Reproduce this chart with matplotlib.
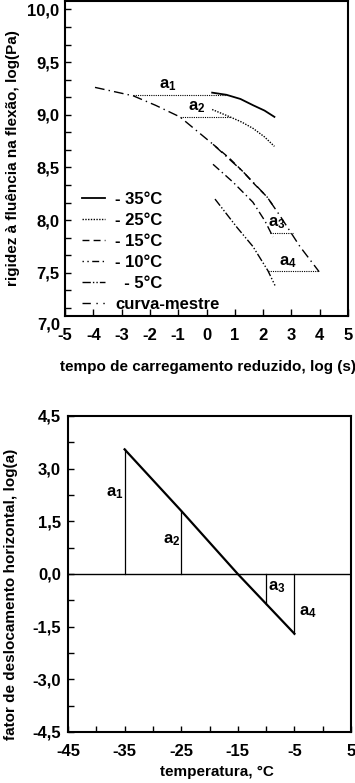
import matplotlib
matplotlib.use("Agg")
import matplotlib.pyplot as plt
from matplotlib.ticker import MultipleLocator, FixedLocator
from matplotlib.lines import Line2D

plt.rcParams["font.family"] = ["Liberation Sans", "DejaVu Sans"]
plt.rcParams["font.weight"] = "bold"
plt.rcParams["axes.labelweight"] = "bold"
plt.rcParams["mathtext.default"] = "regular"

# ---- dados: curvas de rigidez (grafico de cima)
x_35 = [0.2, 0.7, 1.2, 1.65, 2.05, 2.4]
y_35 = [9.21, 9.19, 9.15, 9.09, 9.04, 8.98]
x_25 = [0.2, 0.83, 1.25, 1.65, 2.05, 2.4]
y_25 = [9.05, 8.98, 8.93, 8.87, 8.79, 8.70]
x_15 = [0.23, 0.8, 1.29, 1.7, 2.14, 2.4]
y_15 = [8.72, 8.59, 8.46, 8.34, 8.22, 8.12]
x_10 = [0.23, 0.94, 1.64, 2.07, 2.35]
y_10 = [8.53, 8.36, 8.17, 7.99, 7.84]
x_5 = [0.30, 1.08, 1.64, 2.17, 2.42]
y_5 = [8.20, 7.93, 7.75, 7.52, 7.38]
x_mestre = [-3.94, -2.59, -1.8, -0.94, 0.23, 1.29, 2.14, 2.60, 3.30, 3.98]
y_mestre = [9.26, 9.18, 9.09, 8.98, 8.72, 8.46, 8.22, 8.04, 7.75, 7.51]

# deslocamentos horizontais (a1..a4): nivel y, x inicio, x fim
shift_y = [9.19, 8.98, 7.88, 7.52]
shift_x0 = [-2.59, -0.94, 2.24, 2.18]
shift_x1 = [0.71, 0.83, 3.06, 3.99]
shift_lbl = ["a$_1$", "a$_2$", "a$_3$", "a$_4$"]
shift_lbl_x = [-1.36, -0.34, 2.49, 2.88]
shift_lbl_y = [9.28, 9.07, 7.97, 7.60]

legend_lbl = ["- 35°C", "- 25°C", "- 15°C", "- 10°C", "  - 5°C", "curva-mestre"]

x_ticks_top = [-5, -4, -3, -2, -1, 0, 1, 2, 3, 4, 5]
x_ticklbl_top = ["-5", "-4", "-3", "-2", "-1", "0", "1", "2", "3", "4", "5"]
y_ticks_top = [7.5, 8.0, 8.5, 9.0, 9.5, 10.0]
y_ticklbl_top = ["7,5", "8,0", "8,5", "9,0", "9,5", "10,0"]

# ---- dados: fator de deslocamento (grafico de baixo)
temps = [-35, -25, -15, -10, -5]
log_a = [3.55, 1.8, 0.0, -0.85, -1.7]
a_lbl_x = [-36.7, -26.6, -8.1, -2.6]
a_lbl_y = [2.3, 0.97, -0.37, -1.08]
a_temps = [-35, -25, -10, -5]
a_vals = [3.55, 1.8, -0.85, -1.7]

x_ticks_bot = [-45, -35, -25, -15, -5, 5]
x_ticklbl_bot = ["-45", "-35", "-25", "-15", "-5", "5"]
y_ticks_bot = [-4.5, -3.0, -1.5, 0.0, 1.5, 3.0, 4.5]
y_ticklbl_bot = ["-4,5", "-3,0", "-1,5", "0,0", "1,5", "3,0", "4,5"]

fs = 12
fs_lab = 11
spine_lw = 1.5

fig = plt.figure(figsize=(3.55, 7.83), dpi=100)
ax1 = fig.add_axes([65 / 355, 1 - 316 / 783, 283 / 355, 315 / 783])
ax2 = fig.add_axes([68 / 355, 1 - 732 / 783, 283 / 355, 316 / 783])

for ax in (ax1, ax2):
    for s in ax.spines.values():
        s.set_linewidth(spine_lw)
    ax.tick_params(which="both", direction="in", width=1.0, labelsize=fs)

# ---- grafico de cima
ls_10 = (0, (1, 2.5, 1, 2.5, 5, 2.5))
ls_5 = (0, (6, 1.5, 1, 1.5, 1, 1.5))
ls_m = (0, (7, 3, 1, 3))
ax1.plot(x_35, y_35, color="black", lw=1.3, ls="-")
ax1.plot(x_25, y_25, color="black", lw=1.0, ls=(0, (1, 1)))
ax1.plot(x_mestre, y_mestre, color="black", lw=1.0, ls=ls_m)
ax1.plot(x_15, y_15, color="black", lw=1.0, ls=(0, (5, 3)))
ax1.plot(x_10, y_10, color="black", lw=1.0, ls=(0, (6, 2.5, 1, 2.5)))
ax1.plot(x_5, y_5, color="black", lw=1.0, ls=ls_5)

for yy, xa, xb in zip(shift_y, shift_x0, shift_x1):
    ax1.plot([xa, xb], [yy, yy], color="black", lw=0.8, ls=(0, (1, 1)))
for t, xx, yy in zip(shift_lbl, shift_lbl_x, shift_lbl_y):
    ax1.text(xx, yy, t, fontsize=fs, ha="center", va="center")

handles = [
    Line2D([], [], color="black", lw=1.3, ls="-"),
    Line2D([], [], color="black", lw=1.0, ls=(0, (1, 1))),
    Line2D([], [], color="black", lw=1.0, ls=(0, (5, 3))),
    Line2D([], [], color="black", lw=1.0, ls=ls_10),
    Line2D([], [], color="black", lw=1.0, ls=ls_5),
    Line2D([], [], color="black", lw=1.0, ls=(0, (6, 4, 1, 4, 1, 4))),
]
ax1.legend(handles, legend_lbl, loc="upper left", bbox_to_anchor=(0.06, 0.393),
           frameon=False, fontsize=fs, handlelength=1.4, handletextpad=0.6,
           labelspacing=0.36, borderpad=0, borderaxespad=0)

ax1.set_xlim(-5, 5)
ax1.set_ylim(7.09, 10.08)
ax1.xaxis.set_major_locator(FixedLocator(x_ticks_top))
ax1.set_xticklabels(x_ticklbl_top)
ax1.yaxis.set_major_locator(FixedLocator(y_ticks_top))
ax1.set_yticklabels(y_ticklbl_top)
ax1.yaxis.set_minor_locator(MultipleLocator(0.5 / 3))
ax1.tick_params(axis="x", which="major", length=5, pad=9)
ax1.tick_params(axis="y", which="both", length=4, pad=4)
ax1.text(-0.018, 7.0, "7,0", transform=ax1.get_yaxis_transform(), ha="right",
         va="center", fontsize=fs, clip_on=False)
ax1.set_xlabel("tempo de carregamento reduzido, log (s)", fontsize=fs_lab)
ax1.xaxis.set_label_coords(0.505, -0.14)
ax1.set_ylabel("rigidez à fluência na flexão, log(Pa)", fontsize=fs_lab)
ax1.yaxis.set_label_coords(-0.158, 0.5)

# ---- grafico de baixo
ax2.axhline(0, color="black", lw=1.0)
ax2.plot(temps, log_a, color="black", lw=1.6)
for t, v in zip(a_temps, a_vals):
    ax2.plot([t, t], [0, v], color="black", lw=0.9)
for i, (xx, yy) in enumerate(zip(a_lbl_x, a_lbl_y)):
    ax2.text(xx, yy, shift_lbl[i], fontsize=fs, ha="center", va="center")

ax2.set_xlim(-45, 5)
ax2.set_ylim(-4.5, 4.5)
ax2.xaxis.set_major_locator(FixedLocator(x_ticks_bot))
ax2.set_xticklabels(x_ticklbl_bot)
ax2.xaxis.set_minor_locator(MultipleLocator(5))
ax2.yaxis.set_major_locator(FixedLocator(y_ticks_bot))
ax2.set_yticklabels(y_ticklbl_bot)
ax2.yaxis.set_minor_locator(MultipleLocator(0.75))
ax2.tick_params(axis="x", which="both", length=4, pad=9)
ax2.tick_params(axis="y", which="both", length=4, pad=5)
ax2.set_xlabel("temperatura, °C", fontsize=fs_lab)
ax2.xaxis.set_label_coords(0.527, -0.104)
ax2.set_ylabel("fator de deslocamento horizontal, log(a)", fontsize=fs_lab)
ax2.yaxis.set_label_coords(-0.177, 0.434)

fig.savefig("out.png", dpi=100)
